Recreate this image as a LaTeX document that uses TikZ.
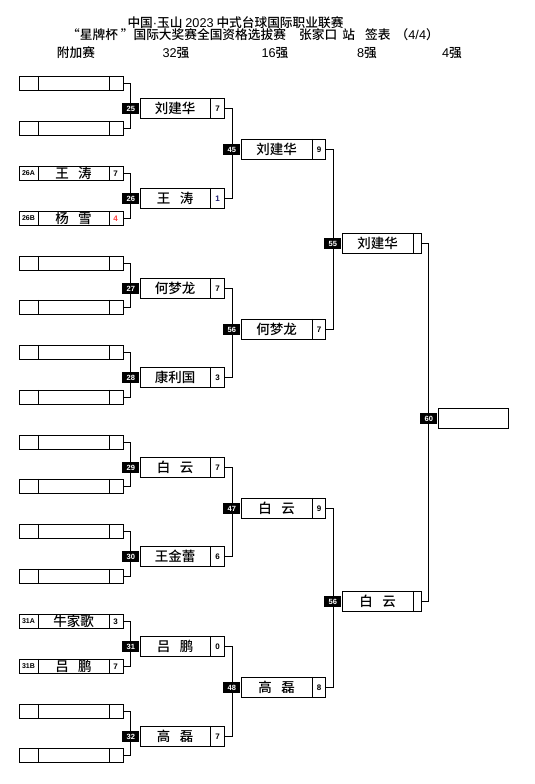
\documentclass[tikz,border=0pt]{standalone}
\usepackage{fontspec}
\setmainfont{Noto Sans CJK SC}[UprightFont={* Medium}, BoldFont={* Bold}]
\newfontfamily\lat{Liberation Sans}
\usetikzlibrary{calc}
\definecolor{scred}{HTML}{FF3B3B}
\definecolor{scnavy}{HTML}{1A1A6E}
\tikzset{
 bl/.style={line width=1.1pt},
 cl/.style={line width=1pt},
 rone/.style={draw, bl, minimum width=104pt, minimum height=14pt, inner sep=0pt, anchor=west},
 rb/.style={draw, bl, minimum height=20pt, inner sep=0pt, anchor=west},
 nm/.style={font=\fontsize{13.5}{14}\selectfont, inner sep=0pt},
 sc/.style={font=\lat\fontsize{8}{9}\selectfont\bfseries, inner sep=0pt},
 lab/.style={font=\lat\fontsize{7}{8}\selectfont\bfseries, inner sep=0pt},
 mnum/.style={fill=black, text=white, font=\lat\fontsize{7.5}{8}\selectfont\bfseries, minimum width=17pt, minimum height=11pt, inner sep=0pt, anchor=east},
 hd/.style={font=\fontsize{12.7}{13}\selectfont, inner sep=0pt},
}
\newcommand\BoxOne[5]{%
 \node[rone] (#1) at (18.5,#2) {};
 \draw[bl] ([xshift=20pt]#1.north west) -- ([xshift=20pt]#1.south west);
 \draw[bl] ([xshift=-14pt]#1.north east) -- ([xshift=-14pt]#1.south east);
 \node[lab] at (28.5,#2) {#3};
 \node[nm] at (73.5,#2) {#4};
 \node[sc] at (115.5,#2) {#5};}
\newcommand\BoxW[7]{%
 \node[rb, minimum width=#4pt] (#1) at (#2,#3) {};
 \draw[bl] ([xshift=-#5pt]#1.north east) -- ([xshift=-#5pt]#1.south east);
 \node[nm] at ($(#1.west)!0.5!([xshift=-#5pt]#1.east)$) {#6};
 \node[sc] at ($(#1.east)+(-#5/2,0)$) {#7};}
\newcommand\Sp{\hspace{0.7em}}
\begin{document}
\begin{tikzpicture}[x=1pt,y=-1pt]
\useasboundingbox (0,0) rectangle (535,784);
% header
\node[hd] (t1) at (235.5,22.7) {中国{\lat ·}玉山 {\lat 2023} 中式台球国际职业联赛};
\node[hd, anchor=west] (t2) at (67,35) {“星牌杯 ”国际大奖赛全国资格选拔赛};
\node[hd, anchor=west] (t3) at (299,35) {张家口\hspace{0.4em}站\hspace{0.8em}签表\hspace{0.4em}（{\lat 4/4}）};
\node[hd] (h1) at (76,53) {附加赛};
\node[hd] (h2) at (176,53) {{\lat 32}强};
\node[hd] (h3) at (275,53) {{\lat 16}强};
\node[hd] (h4) at (367,53) {{\lat 8}强};
\node[hd] (h5) at (452,53) {{\lat 4}强};
% round 1
\BoxOne{a0}{83.5}{}{}{}
\BoxOne{a1}{128.5}{}{}{}
\BoxOne{a2}{173.5}{26A}{王\Sp 涛}{7}
\BoxOne{a3}{218.5}{26B}{杨\Sp 雪}{\color{scred}4}
\BoxOne{a4}{263.5}{}{}{}
\BoxOne{a5}{307.5}{}{}{}
\BoxOne{a6}{352.5}{}{}{}
\BoxOne{a7}{397.5}{}{}{}
\BoxOne{a8}{442.5}{}{}{}
\BoxOne{a9}{486.5}{}{}{}
\BoxOne{a10}{531.5}{}{}{}
\BoxOne{a11}{576.5}{}{}{}
\BoxOne{a12}{621.5}{31A}{牛家歌}{3}
\BoxOne{a13}{666.5}{31B}{吕\Sp 鹏}{7}
\BoxOne{a14}{711.5}{}{}{}
\BoxOne{a15}{755.5}{}{}{}
% round 2
\BoxW{b0}{139.5}{108.5}{84}{14}{刘建华}{7}
\BoxW{b1}{139.5}{198.5}{84}{14}{王\Sp 涛}{\color{scnavy}1}
\BoxW{b2}{139.5}{288.5}{84}{14}{何梦龙}{7}
\BoxW{b3}{139.5}{377.5}{84}{14}{康利国}{3}
\BoxW{b4}{139.5}{467.5}{84}{14}{白\Sp 云}{7}
\BoxW{b5}{139.5}{556.5}{84}{14}{王金蕾}{6}
\BoxW{b6}{139.5}{646.5}{84}{14}{吕\Sp 鹏}{0}
\BoxW{b7}{139.5}{736.5}{84}{14}{高\Sp 磊}{7}
% round 3
\BoxW{c0}{240.5}{149.5}{84}{13}{刘建华}{9}
\BoxW{c1}{240.5}{329.5}{84}{13}{何梦龙}{7}
\BoxW{c2}{240.5}{508.5}{84}{13}{白\Sp 云}{9}
\BoxW{c3}{240.5}{687.5}{84}{13}{高\Sp 磊}{8}
% round 4
\BoxW{d0}{341.5}{243.5}{79}{8}{刘建华}{}
\BoxW{d1}{341.5}{601.5}{79}{8}{白\Sp 云}{}
% final
\node[rb, minimum width=70pt] (e0) at (437.5,418.5) {};
% connectors
\draw[cl] (a0.east) -| ([xshift=-9pt]b0.west) |- (a1.east);
\draw[cl] (a2.east) -| ([xshift=-9pt]b1.west) |- (a3.east);
\draw[cl] (a4.east) -| ([xshift=-9pt]b2.west) |- (a5.east);
\draw[cl] (a6.east) -| ([xshift=-9pt]b3.west) |- (a7.east);
\draw[cl] (a8.east) -| ([xshift=-9pt]b4.west) |- (a9.east);
\draw[cl] (a10.east) -| ([xshift=-9pt]b5.west) |- (a11.east);
\draw[cl] (a12.east) -| ([xshift=-9pt]b6.west) |- (a13.east);
\draw[cl] (a14.east) -| ([xshift=-9pt]b7.west) |- (a15.east);
\draw[cl] (b0.east) -| ([xshift=-8pt]c0.west) |- (b1.east);
\draw[cl] (b2.east) -| ([xshift=-8pt]c1.west) |- (b3.east);
\draw[cl] (b4.east) -| ([xshift=-8pt]c2.west) |- (b5.east);
\draw[cl] (b6.east) -| ([xshift=-8pt]c3.west) |- (b7.east);
\draw[cl] (c0.east) -| ([xshift=-8pt]d0.west) |- (c1.east);
\draw[cl] (c2.east) -| ([xshift=-8pt]d1.west) |- (c3.east);
\draw[cl] (d0.east) -| ([xshift=-9pt]e0.west) |- (d1.east);
% match numbers
\node[mnum] (m25) at (b0.west) {25};
\node[mnum] (m26) at (b1.west) {26};
\node[mnum] (m27) at (b2.west) {27};
\node[mnum] (m28) at (b3.west) {28};
\node[mnum] (m29) at (b4.west) {29};
\node[mnum] (m30) at (b5.west) {30};
\node[mnum] (m31) at (b6.west) {31};
\node[mnum] (m32) at (b7.west) {32};
\node[mnum] (m45) at (c0.west) {45};
\node[mnum] (m56a) at (c1.west) {56};
\node[mnum] (m47) at (c2.west) {47};
\node[mnum] (m48) at (c3.west) {48};
\node[mnum] (m55) at (d0.west) {55};
\node[mnum] (m56b) at (d1.west) {56};
\node[mnum] (m60) at (e0.west) {60};
\end{tikzpicture}
\end{document}
